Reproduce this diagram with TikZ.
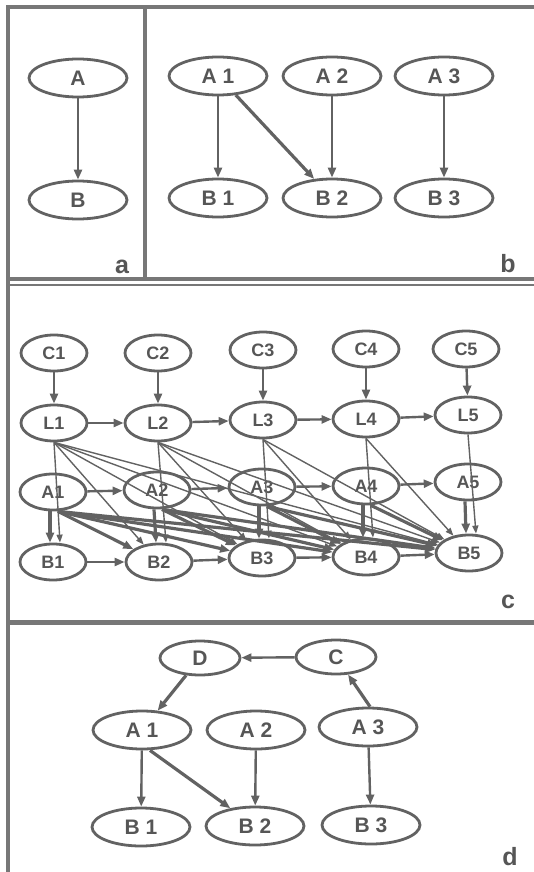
\documentclass[tikz,border=0pt]{standalone}
\usepackage{fontspec}
\setmainfont{Liberation Sans}
\usetikzlibrary{shapes.geometric,arrows.meta}
\definecolor{ln}{HTML}{626262}
\definecolor{tx}{HTML}{565656}
\definecolor{fr}{HTML}{777777}
\begin{document}
\begin{tikzpicture}[x=1pt,y=-1pt,
  nd/.style={ellipse,draw=ln,line width=2.8pt,inner sep=0pt,text=tx,font=\fontsize{21}{21}\selectfont\bfseries},
  big/.style={nd,minimum width=98pt,minimum height=38pt},
  mid/.style={nd,minimum width=80pt,minimum height=34pt},
  sm/.style={nd,minimum width=66pt,minimum height=36pt,font=\fontsize{18}{18}\selectfont\bfseries},
  ar/.style={draw=ln,line width=2.4pt,-{Triangle[length=10pt,width=8pt]}},
  thk/.style={draw=ln,line width=3.2pt,-{Triangle[length=10pt,width=8pt]}},
  thn/.style={draw=ln,line width=1.4pt,-{Triangle[length=8pt,width=6pt]}},
  frame/.style={draw=fr,line width=3.2pt},
  plabel/.style={anchor=base,text=tx,font=\fontsize{25}{25}\selectfont\bfseries}]
\useasboundingbox (0,0) rectangle (534,872);

% frames
\draw[frame] (8,872) -- (8,7) -- (534,7);
\draw[frame] (145,7) -- (145,279);
\draw[frame] (8,279) -- (534,279);
\draw[draw=fr,line width=2.2pt] (8,285) -- (534,285);
\draw[draw=fr,line width=5pt] (8,622) -- (534,622);

% panel a
\node[big] (aA) at (78,78) {A};
\node[big] (aB) at (78,200) {B};
\draw[ar] (aA) -- (aB);
\node[plabel] (la) at (122,273) {a};

% panel b
\node[big] (bA1) at (218,76) {A 1};
\node[big] (bA2) at (332,76) {A 2};
\node[big] (bA3) at (444,76) {A 3};
\node[big] (bB1) at (218,198) {B 1};
\node[big] (bB2) at (332,198) {B 2};
\node[big] (bB3) at (444,198) {B 3};
\draw[ar] (bA1) -- (bB1);
\draw[ar] (bA2) -- (bB2);
\draw[ar] (bA3) -- (bB3);
\draw[thk] (bA1) -- (bB2);
\node[plabel] (lb) at (508,272) {b};

% panel c
\node[sm] (C1) at (54,353) {C1};
\node[sm] (C2) at (158,353) {C2};
\node[sm] (C3) at (263,350) {C3};
\node[sm] (C4) at (366,349) {C4};
\node[sm] (C5) at (466,349) {C5};
\node[sm] (L1) at (54,423) {L1};
\node[sm] (L2) at (158,423) {L2};
\node[sm] (L3) at (263,420) {L3};
\node[sm] (L4) at (366,419) {L4};
\node[sm] (L5) at (468,415) {L5};
\node[sm] (A1) at (53,492) {A1};
\node[sm] (A2) at (157,490) {A2};
\node[sm] (A3) at (262,487) {A3};
\node[sm] (A4) at (366,486) {A4};
\node[sm] (A5) at (468,482) {A5};
\node[sm] (B1) at (53,562) {B1};
\node[sm] (B2) at (159,562) {B2};
\node[sm] (B3) at (262,558) {B3};
\node[sm] (B4) at (366,557) {B4};
\node[sm] (B5) at (469,553) {B5};

\foreach \i in {1,...,5} {
  \draw[ar] (C\i) -- (L\i);
  \draw[thk] ([xshift=-3pt]A\i.south) -- ([xshift=-3pt]B\i.north);
  \draw[thn] (L\i.south) -- ([xshift=7pt]B\i.north);
}
\foreach \i/\j in {1/2,2/3,3/4,4/5} {
  \draw[ar] (L\i) -- (L\j);
  \draw[ar] (A\i) -- (A\j);
  \draw[ar] (B\i) -- (B\j);
}
\foreach \i/\j in {1/2,1/3,1/4,1/5,2/3,2/4,2/5,3/4,3/5,4/5} {
  \draw[thn] (L\i.south) -- (B\j);
  \draw[thk] ([xshift=5pt]A\i.south) -- (B\j);
}
\node[plabel] (lc) at (508,608) {c};

% panel d
\node[mid] (dD) at (200,658) {D};
\node[mid] (dC) at (336,657) {C};
\node[big] (dA1) at (142,730) {A 1};
\node[big] (dA2) at (256,730) {A 2};
\node[big] (dA3) at (368,727) {A 3};
\node[big] (dB1) at (141,827) {B 1};
\node[big] (dB2) at (255,826) {B 2};
\node[big] (dB3) at (371,825) {B 3};
\draw[ar] (dC) -- (dD);
\draw[thk] (dD) -- (dA1);
\draw[thk] ([xshift=2pt]dA3.north) -- (dC);
\draw[ar] (dA1) -- (dB1);
\draw[ar] (dA2) -- (dB2);
\draw[ar] (dA3) -- (dB3);
\draw[thk] ([xshift=8pt]dA1.south) -- (dB2);
\node[plabel] (ld) at (510,865) {d};
\end{tikzpicture}
\end{document}
